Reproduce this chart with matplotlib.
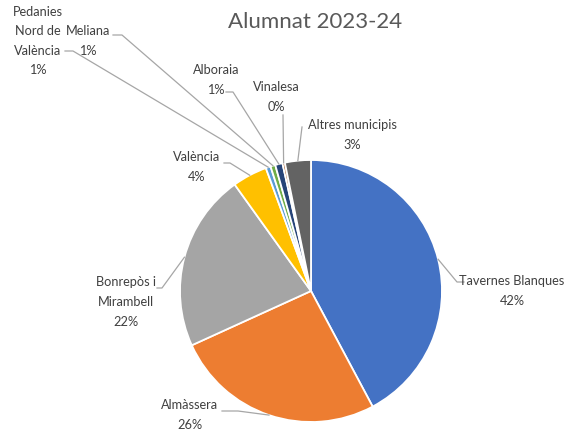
import numpy as np
import matplotlib.pyplot as plt

# Dades del gràfic (percentatges aproximats)
municipis = ["Tavernes Blanques", "Almàssera", "Bonrepòs i\nMirambell", "València",
             "Pedanies\nNord de\nValència", "Meliana", "Alboraia", "Vinalesa",
             "Altres municipis"]
percentatges = [42.2, 26.0, 21.9, 4.3, 0.6, 0.6, 0.9, 0.3, 3.2]
etiquetes_pct = ["42%", "26%", "22%", "4%", "1%", "1%", "1%", "0%", "3%"]
colors = ["#4472C4", "#ED7D31", "#A5A5A5", "#FFC000", "#5B9BD5",
          "#70AD47", "#264478", "#9E480E", "#636363"]

# posicions de les etiquetes (píxels de la imatge: x, y des de dalt)
text_pos = [(512, 291), (190, 415), (126, 302), (197, 167), (38, 41),
            (88, 41), (216, 80), (276, 97), (352, 135)]
# colze i final de la línia guia
colze = [(457, 282), (238, 411), (162, 288), (230, 163), (73, 51),
         (122, 35), (233, 92), (283, 115), (302, 127)]
final = [(464, 282), (222, 411), (157, 288), (224, 163), (65, 51),
         (113, 35), (226, 92), (283, 115), (302, 127)]

W, H = 579, 430
fig = plt.figure(figsize=(W / 100, H / 100), dpi=100)
ax = fig.add_axes([0, 0, 1, 1])

cx, cy, r = 311, H - 291, 131
wedges, _ = ax.pie(percentatges, colors=colors, startangle=90, counterclock=False,
                   center=(cx, cy), radius=r,
                   wedgeprops=dict(edgecolor="white", linewidth=1.3))

for i, w in enumerate(wedges):
    ang = np.deg2rad((w.theta1 + w.theta2) / 2)
    ex, ey = cx + r * np.cos(ang), cy + r * np.sin(ang)
    kx, ky = colze[i]
    fx, fy = final[i]
    ax.plot([ex, kx, fx], [ey, H - ky, H - fy], color="#A6A6A6", lw=0.9, zorder=1)
    tx, ty = text_pos[i]
    ax.text(tx, H - ty, municipis[i] + "\n" + etiquetes_pct[i], ha="center", va="center",
            fontsize=9.2, family="Lato", color="#404040", linespacing=1.75)

ax.text(315, H - 22, "Alumnat 2023-24", ha="center", va="center",
        fontsize=16, family="Lato", color="#595959")

ax.set_xlim(0, W)
ax.set_ylim(0, H)
ax.set_aspect("equal")
ax.axis("off")
fig.savefig("out.png", dpi=100, facecolor="white")
